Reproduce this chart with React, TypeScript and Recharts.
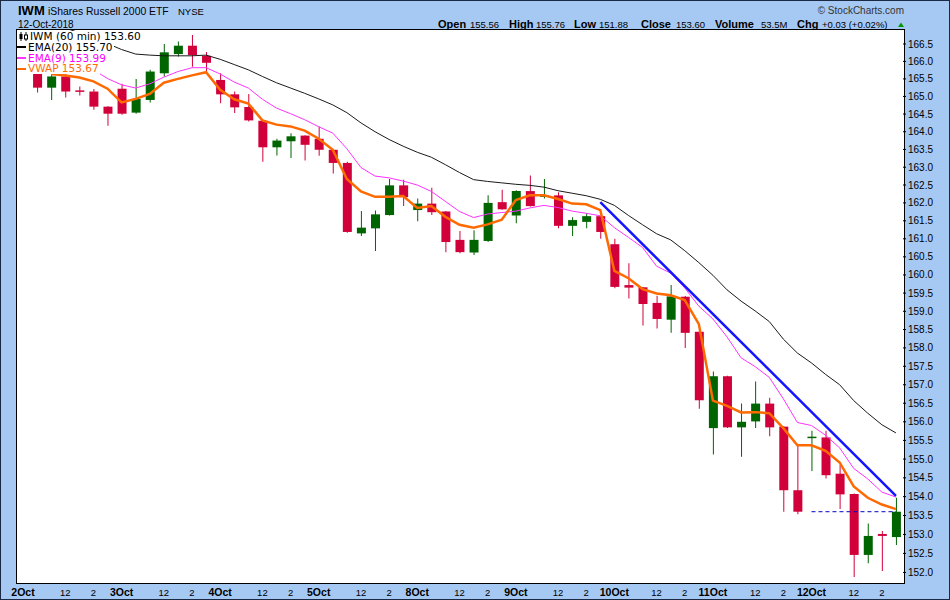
import React from 'react';
import { ComposedChart, Bar, Line, XAxis, YAxis, Cell, ReferenceLine } from 'recharts';

// 60-minute bars, 7 per session; slot 0 (2 Oct 9:30) has no bar in the picture
const dayLabels = ['2Oct', '3Oct', '4Oct', '5Oct', '8Oct', '9Oct', '10Oct', '11Oct', '12Oct'];
const hourLabels = ['', '', '', '12', '', '2', ''];

const opens = [null,
  165.66, 165.25, 165.57, 165.14, 165.14, 164.71, 165.22, 164.54, 164.90, 165.66,
  166.21, 166.45, 166.16, 165.47, 165.06, 164.70, 164.31, 163.56, 163.73, 163.89,
  163.80, 163.49, 163.12, 161.15, 161.29, 161.66, 162.49, 161.80, 161.98, 161.76,
  160.97, 160.62, 160.94, 162.02, 161.65, 162.33, 162.17, 162.21, 161.36, 161.47,
  161.63, 160.85, 159.72, 159.66, 159.23, 158.77, 159.40, 158.44, 155.83, 157.23,
  155.85, 156.01, 156.49, 155.87, 154.17, 155.56, 155.58, 154.61, 154.07, 152.46,
  153.01, 152.93];
const highs = [null,
  165.70, 165.66, 165.66, 165.28, 165.21, 164.72, 165.36, 165.50, 165.76, 166.50,
  166.57, 166.76, 166.27, 165.66, 165.14, 165.07, 164.31, 163.80, 163.96, 163.90,
  164.15, 163.50, 163.15, 161.77, 161.79, 162.67, 162.65, 162.12, 162.42, 161.77,
  161.22, 161.24, 162.21, 162.37, 162.35, 162.77, 162.67, 162.30, 161.60, 161.71,
  161.64, 161.00, 160.32, 159.67, 159.43, 159.72, 159.42, 158.45, 157.36, 157.24,
  156.49, 157.09, 156.65, 155.88, 155.37, 155.76, 155.76, 154.84, 154.08, 153.29,
  153.09, 153.97];
const lows = [null,
  165.11, 164.90, 164.97, 165.03, 164.62, 164.17, 164.48, 164.51, 164.83, 165.57,
  166.14, 165.85, 165.66, 164.81, 164.53, 164.29, 163.15, 163.33, 163.26, 163.19,
  163.32, 162.82, 161.17, 161.08, 160.66, 161.65, 161.91, 161.49, 161.66, 160.63,
  160.60, 160.55, 160.91, 161.81, 161.43, 161.90, 162.12, 161.29, 161.08, 161.29,
  161.00, 159.63, 159.35, 158.61, 158.53, 158.41, 158.00, 156.35, 155.12, 155.83,
  155.06, 155.83, 155.61, 153.60, 153.53, 154.68, 154.48, 153.67, 151.88, 152.24,
  152.04, 152.72];
const closes = [null,
  165.25, 165.57, 165.14, 165.13, 164.71, 164.51, 164.51, 164.93, 165.71, 166.26,
  166.45, 166.18, 165.96, 165.06, 164.69, 164.32, 163.56, 163.75, 163.87, 163.63,
  163.49, 163.12, 161.19, 161.31, 161.68, 162.49, 162.16, 161.98, 161.74, 160.91,
  160.63, 160.97, 162.00, 161.82, 162.33, 161.91, 162.21, 161.36, 161.52, 161.63,
  161.19, 159.67, 159.65, 159.20, 158.79, 159.41, 158.41, 156.58, 157.23, 155.85,
  156.00, 156.49, 155.85, 154.17, 153.60, 155.58, 154.57, 154.06, 152.46, 152.96,
  152.96, 153.60];

const ema20 = [null,
  167.25, 167.10, 166.96, 166.82, 166.66, 166.51, 166.34, 166.21, 166.18, 166.16,
  166.16, 166.16, 166.18, 166.06, 165.91, 165.76, 165.57, 165.39, 165.24, 165.09,
  164.93, 164.76, 164.54, 164.25, 164.00, 163.78, 163.59, 163.42, 163.28, 163.07,
  162.85, 162.65, 162.60, 162.56, 162.52, 162.49, 162.44, 162.34, 162.27, 162.20,
  162.10, 161.93, 161.65, 161.39, 161.14, 160.97, 160.67, 160.34, 159.99, 159.59,
  159.28, 159.01, 158.72, 158.24, 157.86, 157.59, 157.28, 157.00, 156.57, 156.23,
  155.92, 155.70];
const ema9 = [null,
  166.56, 166.40, 166.21, 165.98, 165.76, 165.51, 165.33, 165.24, 165.36, 165.55,
  165.71, 165.82, 165.82, 165.64, 165.41, 165.24, 164.92, 164.67, 164.51, 164.34,
  164.14, 163.96, 163.52, 162.99, 162.75, 162.70, 162.61, 162.50, 162.32, 162.04,
  161.76, 161.59, 161.69, 161.73, 161.77, 161.86, 161.93, 161.87, 161.77, 161.71,
  161.64, 161.31, 161.04, 160.76, 160.24, 160.05, 159.64, 159.14, 158.79, 158.30,
  157.73, 157.49, 157.20, 156.62, 155.98, 155.90, 155.64, 155.30, 154.75, 154.47,
  154.12, 153.99];
const vwap = [null,
  null, 165.64, 165.60, 165.54, 165.43, 165.22, 164.83, 164.93, 165.07, 165.39,
  165.50, 165.60, 165.69, 165.19, 164.92, 164.80, 164.32, 164.20, 164.15, 164.03,
  163.80, 163.49, 162.67, 162.32, 162.17, 162.17, 162.19, 161.86, 161.91, 161.61,
  161.39, 161.31, 161.40, 161.53, 162.08, 162.21, 162.21, 162.11, 161.98, 161.96,
  161.80, 160.11, 159.91, 159.61, 159.49, 159.44, 159.31, 158.65, 156.57, 156.43,
  156.25, 156.26, 156.23, 155.83, 155.37, 155.37, 155.22, 154.91, 154.27, 153.97,
  153.79, 153.67];

// hand-drawn trend line and last-close marker
const trendStart = { slot: 41, price: 162.02 };
const trendEnd = { slot: 62, price: 154.02 };
const lastClose = { from: 56, to: 62, price: 153.6 };

const priceTicks = [
  152.0, 152.5, 153.0, 153.5, 154.0, 154.5, 155.0, 155.5, 156.0, 156.5,
  157.0, 157.5, 158.0, 158.5, 159.0, 159.5, 160.0, 160.5, 161.0, 161.5,
  162.0, 162.5, 163.0, 163.5, 164.0, 164.5, 165.0, 165.5, 166.0, 166.5,
];

const UP = '#006400';
const DOWN = '#d2003a';
const SANS = "'Liberation Sans', Arial, sans-serif";
const LEGEND_FONT = "'DejaVu Sans', Verdana, sans-serif";

const data = opens.map((open, i) => {
  const close = closes[i];
  const row: any = {
    slot: i,
    ema20: ema20[i],
    ema9: ema9[i],
    vwap: vwap[i],
    trend: i === trendStart.slot ? trendStart.price : i === trendEnd.slot ? trendEnd.price : null,
  };
  if (open == null || close == null) return { ...row, wick: null, body: null, up: true };
  return {
    ...row,
    wick: [lows[i], highs[i]],
    body: [Math.min(open, close), Math.max(open, close)],
    up: close >= open,
  };
});

function slotLabel(i: number) {
  return i % 7 === 0 ? dayLabels[i / 7] : hourLabels[i % 7];
}

function DateTick(props: any) {
  const { x, y, payload } = props;
  const i = payload.value as number;
  const label = slotLabel(i);
  if (!label) return <g />;
  const isDay = i % 7 === 0;
  return (
    <text
      x={x}
      y={y + 13.5}
      textAnchor="middle"
      fontFamily={SANS}
      fontSize={isDay ? 10.5 : 9.5}
      fontWeight={isDay ? 700 : 400}
      fill="#000"
    >
      {label}
    </text>
  );
}

const legendRow: React.CSSProperties = {
  background: '#fff',
  width: 'fit-content',
  height: 10.75,
  lineHeight: '10.75px',
  fontSize: 10.5,
  fontFamily: LEGEND_FONT,
  whiteSpace: 'nowrap',
  display: 'flex',
  alignItems: 'center',
  paddingRight: 1,
};

function Dash({ color, thick }: { color: string; thick: number }) {
  return <span style={{ display: 'inline-block', width: 9, height: thick, background: color, marginRight: 2 }} />;
}

function Header() {
  const stats: [string, string, number, number][] = [
    ['Open', '155.56', 437, 469],
    ['High', '155.76', 508, 535],
    ['Low', '151.88', 573, 598],
    ['Close', '153.60', 640, 675],
    ['Volume', '53.5M', 714, 760],
    ['Chg', '+0.03 (+0.02%)', 796, 821],
  ];
  return (
    <svg width={950} height={29} style={{ position: 'absolute', left: 0, top: 0 }}>
      <text x={17} y={14} fontFamily={SANS} fontSize={13} fontWeight={700} fill="#000">IWM</text>
      <text x={47} y={14} fontFamily={SANS} fontSize={10.4} fill="#000">iShares Russell 2000 ETF</text>
      <text x={177} y={14} fontFamily={SANS} fontSize={9.5} fill="#000">NYSE</text>
      <text x={17} y={26.5} fontFamily={SANS} fontSize={10} fill="#000">12-Oct-2018</text>
      <text x={903} y={12.5} textAnchor="end" fontFamily={SANS} fontSize={10} fill="#333">© StockCharts.com</text>
      {stats.map(([label, value, lx, vx]) => (
        <g key={label}>
          <text x={lx} y={26.5} fontFamily={SANS} fontSize={11} fontWeight={700} fill="#000">{label}</text>
          <text x={vx} y={26.5} fontFamily={SANS} fontSize={9.5} fill="#000">{value}</text>
        </g>
      ))}
      <polygon points="897,26 903,26 900,21.5" fill="#009a00" />
    </svg>
  );
}

export default function App() {
  return (
    <div
      style={{
        position: 'absolute',
        left: 0,
        top: 0,
        width: 950,
        height: 600,
        background: '#a6c9f4',
        border: '1px solid #1b2a44',
        boxSizing: 'border-box',
        overflow: 'hidden',
      }}
    >
      <Header />
      <div style={{ position: 'absolute', left: 16, top: 29, width: 887, height: 553, background: '#fff' }} />
      <ComposedChart
        width={950}
        height={600}
        data={data}
        margin={{ top: 29, right: 0, bottom: 0, left: 16 }}
        style={{ position: 'absolute', left: -1, top: -1 }}
      >
        <XAxis
          xAxisId="bottom"
          dataKey="slot"
          type="category"
          interval={0}
          height={18}
          axisLine={false}
          tickLine={false}
          tickSize={0}
          tickMargin={0}
          tick={<DateTick />}
        />
        <XAxis xAxisId="top" dataKey="slot" type="category" orientation="top" hide />
        <YAxis
          yAxisId="price"
          orientation="right"
          type="number"
          scale="log"
          domain={[151.75, 166.93]}
          allowDataOverflow
          ticks={priceTicks}
          interval={0}
          width={47}
          axisLine={false}
          tickLine={{ stroke: '#000' }}
          tickSize={3}
          tickMargin={2}
          tickFormatter={(v: number) => v.toFixed(1)}
          tick={{ fontSize: 10, fill: '#000', fontFamily: SANS }}
        />
        <Bar xAxisId="top" yAxisId="price" dataKey="wick" barSize={1} isAnimationActive={false}>
          {data.map((d) => (
            <Cell key={`w${d.slot}`} fill={d.up ? UP : DOWN} />
          ))}
        </Bar>
        <Bar xAxisId="bottom" yAxisId="price" dataKey="body" barSize={9} minPointSize={1.5} isAnimationActive={false}>
          {data.map((d) => (
            <Cell key={`b${d.slot}`} fill={d.up ? UP : DOWN} />
          ))}
        </Bar>
        <Line
          xAxisId="bottom"
          yAxisId="price"
          dataKey="ema20"
          stroke="#1a1a1a"
          strokeWidth={1}
          dot={false}
          activeDot={false}
          isAnimationActive={false}
        />
        <Line
          xAxisId="bottom"
          yAxisId="price"
          dataKey="ema9"
          stroke="#ff33ff"
          strokeWidth={1}
          dot={false}
          activeDot={false}
          isAnimationActive={false}
        />
        <Line
          xAxisId="bottom"
          yAxisId="price"
          dataKey="vwap"
          stroke="#ff6a00"
          strokeWidth={2.5}
          dot={false}
          activeDot={false}
          isAnimationActive={false}
        />
        <Line
          xAxisId="bottom"
          yAxisId="price"
          dataKey="trend"
          stroke="#1414ff"
          strokeWidth={2.5}
          connectNulls
          dot={false}
          activeDot={false}
          isAnimationActive={false}
        />
        <ReferenceLine
          xAxisId="bottom"
          yAxisId="price"
          segment={[
            { x: lastClose.from, y: lastClose.price },
            { x: lastClose.to, y: lastClose.price },
          ]}
          stroke="#0000cc"
          strokeDasharray="4 3"
        />
      </ComposedChart>
      <div
        style={{
          position: 'absolute',
          left: 15,
          top: 28,
          width: 889,
          height: 555,
          border: '1px solid #000',
          boxSizing: 'border-box',
          pointerEvents: 'none',
        }}
      />
      <div style={{ position: 'absolute', left: 16, top: 30 }}>
        <div style={{ ...legendRow, color: '#000' }}>
          <svg width={11} height={9} style={{ marginLeft: 2 }}>
            <line x1={2} y1={0} x2={2} y2={9} stroke="#000" />
            <rect x={0.5} y={2} width={3} height={5} fill="#000" />
            <line x1={7} y1={0} x2={7} y2={9} stroke="#000" />
            <rect x={5.5} y={3} width={3} height={4} fill="#fff" stroke="#000" strokeWidth={1} />
          </svg>
          IWM (60 min) 153.60
        </div>
        <div style={{ ...legendRow, color: '#000' }}>
          <Dash color="#000" thick={2} />
          EMA(20) 155.70
        </div>
        <div style={{ ...legendRow, color: '#ff00ff' }}>
          <Dash color="#ff33ff" thick={2} />
          EMA(9) 153.99
        </div>
        <div style={{ ...legendRow, color: '#ff6a00' }}>
          <Dash color="#ff6a00" thick={2} />
          VWAP 153.67
        </div>
      </div>
    </div>
  );
}
